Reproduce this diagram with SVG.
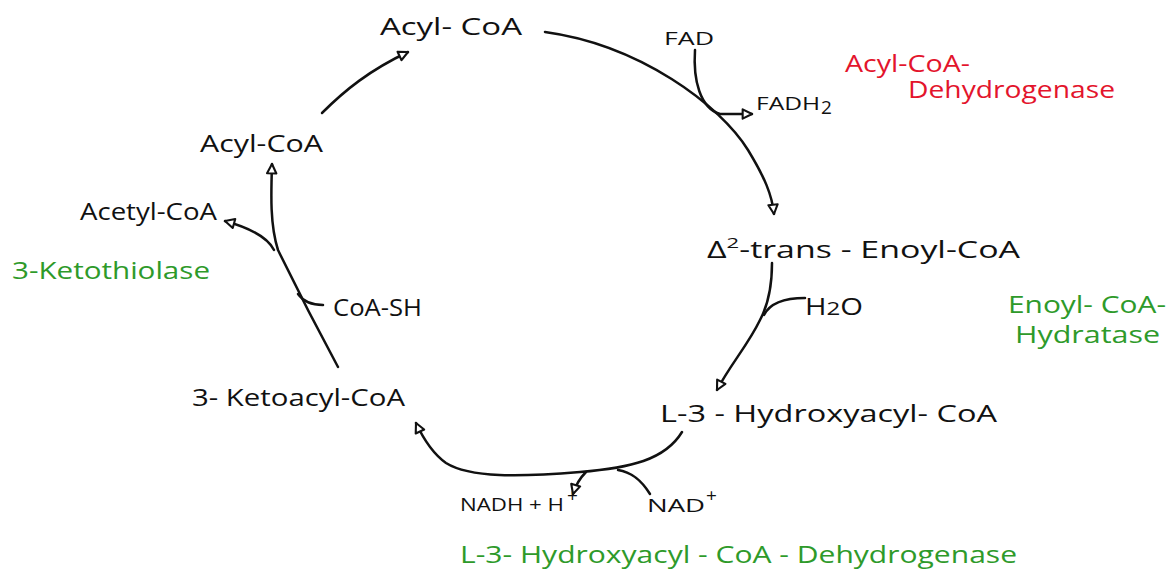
<svg xmlns="http://www.w3.org/2000/svg" width="1172" height="584" viewBox="0 0 1172 584">
<style>
text{font-family:"Open Sans","DejaVu Sans",sans-serif;}
.n{fill:#111;font-size:23px;}
.s{fill:#111;font-size:19px;}
.red{fill:#e3142c;font-size:23px;}
.grn{fill:#2e9a2a;font-size:23px;}
.c{fill:none;stroke:#111;stroke-width:2.5;stroke-linecap:round;}
</style>
<defs>
<marker id="ah" viewBox="0 0 12 12" refX="10" refY="6" markerWidth="14" markerHeight="14" markerUnits="userSpaceOnUse" orient="auto">
<path d="M2,2 L10,6 L2,10 Z" fill="#fff" stroke="#111" stroke-width="1.8" stroke-linejoin="round"/>
</marker>
</defs>
<rect width="1172" height="584" fill="#fff"/>
<g id="connectors">
<path class="c" d="M545,32 C640,45 720,105 748,150 C765,178 772,195 774,214" marker-end="url(#ah)"/>
<path class="c" d="M695,50 C693,80 700,108 720,114 L752,114" marker-end="url(#ah)"/>
<path class="c" d="M772,263 C772,285 768,305 760,320 C748,345 730,365 717,390" marker-end="url(#ah)"/>
<path class="c" d="M805,298 C785,298 770,303 764,315"/>
<path class="c" d="M682,432 C665,460 630,468 580,472 C520,477 470,478 446,463 C432,453 423,438 416,423" marker-end="url(#ah)"/>
<path class="c" d="M650,494 C640,478 630,472 618,470"/>
<path class="c" d="M586,472 C580,478 576,484 573,494" marker-end="url(#ah)"/>
<path class="c" d="M338,367 C318,330 295,285 278,250 C270,225 271,195 272,164" marker-end="url(#ah)"/>
<path class="c" d="M323,305 C312,305 303,301 298,294"/>
<path class="c" d="M274,250 C268,238 250,228 225,221" marker-end="url(#ah)"/>
<path class="c" d="M322,113 C345,90 370,70 408,52" marker-end="url(#ah)"/>
</g>
<g id="acylcoa-top"><text class="n" x="380" y="35" textLength="142" lengthAdjust="spacingAndGlyphs">Acyl- CoA</text></g>
<g id="fad"><text class="s" x="664" y="45" textLength="50" lengthAdjust="spacingAndGlyphs">FAD</text></g>
<g id="fadh2"><text class="s" x="756" y="110" textLength="64" lengthAdjust="spacingAndGlyphs">FADH</text><text class="s" x="821" y="114" font-size="15">2</text></g>
<g id="enzyme-acyl-dh">
<text class="red" x="845" y="72" textLength="125" lengthAdjust="spacingAndGlyphs">Acyl-CoA-</text>
<text class="red" x="908" y="98" textLength="207" lengthAdjust="spacingAndGlyphs">Dehydrogenase</text>
</g>
<g id="enoylcoa"><text class="n" x="707" y="258" textLength="313" lengthAdjust="spacingAndGlyphs">Δ<tspan font-size="15" dy="-10">2</tspan><tspan dy="10">-trans - Enoyl-CoA</tspan></text></g>
<g id="h2o"><text class="n" x="805" y="315" textLength="58" lengthAdjust="spacingAndGlyphs">H<tspan font-size="19">2</tspan>O</text></g>
<g id="enzyme-hydratase">
<text class="grn" x="1008" y="313" textLength="158" lengthAdjust="spacingAndGlyphs">Enoyl- CoA-</text>
<text class="grn" x="1015" y="343" textLength="145" lengthAdjust="spacingAndGlyphs">Hydratase</text>
</g>
<g id="hydroxyacylcoa"><text class="n" x="660" y="422" textLength="337" lengthAdjust="spacingAndGlyphs">L-3 - Hydroxyacyl- CoA</text></g>
<g id="nad"><text class="s" x="647" y="512" textLength="58" lengthAdjust="spacingAndGlyphs">NAD</text><text class="s" x="706" y="502" font-size="15">+</text></g>
<g id="nadh"><text class="s" x="460" y="511" textLength="104" lengthAdjust="spacingAndGlyphs">NADH + H</text><text class="s" x="567" y="502" font-size="15">+</text></g>
<g id="enzyme-hydroxy-dh"><text class="grn" x="460" y="563" textLength="557" lengthAdjust="spacingAndGlyphs">L-3- Hydroxyacyl - CoA - Dehydrogenase</text></g>
<g id="ketoacylcoa"><text class="n" x="192" y="406" textLength="213" lengthAdjust="spacingAndGlyphs">3- Ketoacyl-CoA</text></g>
<g id="coash"><text class="n" x="333" y="316" textLength="89" lengthAdjust="spacingAndGlyphs">CoA-SH</text></g>
<g id="enzyme-thiolase"><text class="grn" x="12" y="279" textLength="198" lengthAdjust="spacingAndGlyphs">3-Ketothiolase</text></g>
<g id="acetylcoa"><text class="n" x="80" y="220" textLength="137" lengthAdjust="spacingAndGlyphs">Acetyl-CoA</text></g>
<g id="acylcoa-left"><text class="n" x="200" y="152" textLength="123" lengthAdjust="spacingAndGlyphs">Acyl-CoA</text></g>
</svg>
